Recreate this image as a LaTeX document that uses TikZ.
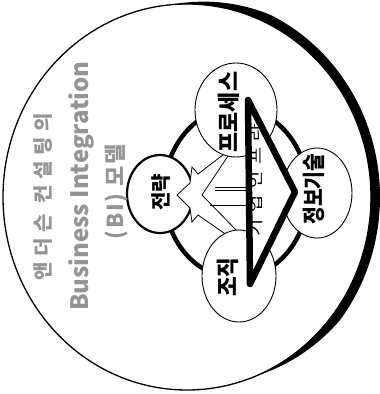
\documentclass[tikz,border=0pt]{standalone}
\usepackage{fontspec}
\usepackage{graphicx}
\setmainfont{Noto Sans CJK KR}
\usetikzlibrary{shapes.geometric}
\begin{document}
\begin{tikzpicture}[x=1pt,y=-1pt,
  bub/.style={ellipse, draw=black, fill=white, line width=0.9pt, inner sep=0pt},
  lbl/.style={rotate=90, inner sep=0pt},
  ttl/.style={rotate=90, inner sep=0pt, text=black!42, anchor=base},
  thinln/.style={draw=black, line width=0.8pt},
  declare function={thk(\t)=9*min(1,1.8*sin((95-\t)*1.1043));}]
\useasboundingbox (0,0) rectangle (380,394);
\fill[white] (0,0) rectangle (380,394);
% outer frame with crescent shadow
\draw[line width=1.3pt] (187,197) ellipse [x radius=184pt, y radius=193pt];
\fill plot[domain=-68:95, samples=90, smooth] ({187+(184+thk(\x))*cos(\x)}, {197-(193+thk(\x))*sin(\x)})
  -- plot[domain=95:-68, samples=60, smooth] ({187+184*cos(\x)},{197-193*sin(\x)}) -- cycle;
% ring
\draw[line width=4.5pt] (236,193) ellipse [x radius=72pt, y radius=85pt];
% strategy circle
\node[bub, line width=2.2pt, minimum width=66pt, minimum height=78pt] (sC) at (160,194) {};
% hollow arrow into strategy
\filldraw[fill=white, thinln, line join=miter]
  (232,148) -- (198,174) -- (192,167) -- (190,183) -- (177,195) -- (190,208)
  -- (192,222) -- (198,215) -- (234,240) -- (249,240) -- (249,148) -- cycle;
\draw[thinln] (232,150) -- (202,195) -- (240,234);
\draw[thinln, line width=0.6pt] (215,187) -- (249,187);
\draw[thinln, line width=0.6pt] (215,190) -- (249,190);
\draw[thinln] (210,205) -- (249,205);
% other circles
\node[bub, minimum width=82pt, minimum height=94pt] (pC) at (236,110) {};
\node[bub, minimum width=74pt, minimum height=92pt] (oC) at (239,276) {};
\node[bub, minimum width=70pt, minimum height=90pt] (iC) at (317,193) {};
% triangle
\filldraw[fill=white, line width=6.5pt, line join=round] (248,100) -- (295,192) -- (250,284) -- cycle;
% labels
\node[lbl, font=\bfseries\fontsize{20}{20}\selectfont] (sT) at (161,192) {전략};
\node[lbl, font=\bfseries\fontsize{23}{23}\selectfont] (pT) at (229,112) {\scalebox{0.95}[1]{프로세스}};
\node[lbl, font=\bfseries\fontsize{23}{23}\selectfont] (iT) at (314,189) {\scalebox{0.84}[1]{정보기술}};
\node[lbl, font=\bfseries\fontsize{23}{23}\selectfont] (oT) at (228,277) {\scalebox{0.93}[1]{조직}};
\node[lbl, font=\fontsize{15}{15}\selectfont\addfontfeatures{LetterSpace=35}] (inf) at (256,180) {\scalebox{1.25}[1]{기업인프라}};
% title
\node[ttl, font=\bfseries\fontsize{20}{24}\selectfont\addfontfeatures{LetterSpace=28}] (t1) at (50,197) {앤더슨 컨설팅의};
\node[ttl, font=\bfseries\fontsize{24}{30}\selectfont] (t2) at (88,186) {Business Integration};
\node[ttl, font=\bfseries\fontsize{22}{26}\selectfont\addfontfeatures{LetterSpace=8}] (t3) at (123,192) {(BI) 모델};
\end{tikzpicture}
\end{document}
